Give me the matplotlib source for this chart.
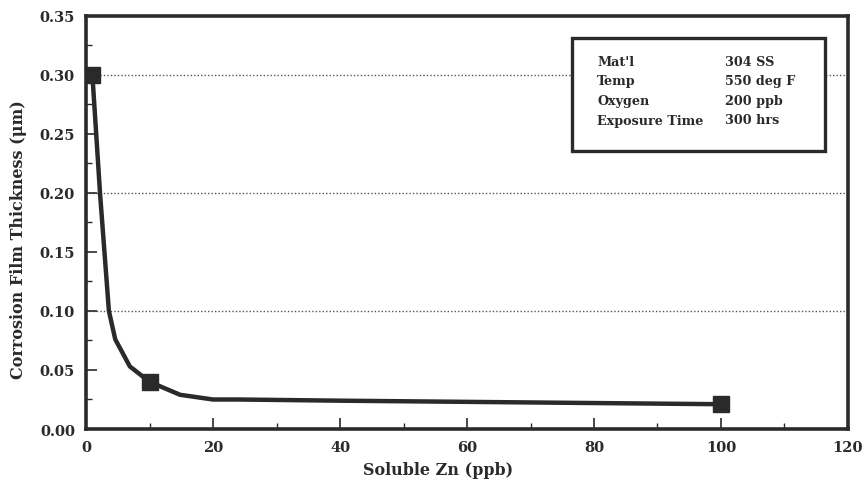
import matplotlib.pyplot as plt
from matplotlib.ticker import MultipleLocator

# measured points (squares)
zn_pts = [1, 10, 100]
film_pts = [0.30, 0.04, 0.021]

# hand drawn fitted curve
zn_curve = [1, 2.2, 3.6, 4.6, 6.9, 10, 14.8, 20, 24, 40, 60, 80, 100]
film_curve = [0.30, 0.20, 0.10, 0.076, 0.053, 0.04, 0.029, 0.025, 0.025, 0.024, 0.023, 0.022, 0.021]

info_keys = ["Mat'l", "Temp", "Oxygen", "Exposure Time"]
info_vals = ["304 SS", "550 deg F", "200 ppb", "300 hrs"]

plt.rcParams['font.family'] = ['DejaVu Serif']
plt.rcParams['font.weight'] = 'bold'
ink = '#2a2a2a'

fig = plt.figure(figsize=(8.63, 4.85), dpi=100)
ax = fig.add_axes([0.0997, 0.1134, 0.8829, 0.8516])

for y in [0.10, 0.20, 0.30]:
    ax.axhline(y, color='#555555', lw=1.0, ls=(0, (1, 1.5)), zorder=1)

ax.plot(zn_curve, film_curve, color=ink, lw=3.2, solid_capstyle='round',
        solid_joinstyle='round', zorder=3)
ax.plot(zn_pts, film_pts, ls='none', marker='s', ms=11, color=ink, zorder=4)

ax.set_xlim(0, 120)
ax.set_ylim(0, 0.35)
ax.xaxis.set_major_locator(MultipleLocator(20))
ax.xaxis.set_minor_locator(MultipleLocator(10))
ax.yaxis.set_major_locator(MultipleLocator(0.05))
ax.yaxis.set_minor_locator(MultipleLocator(0.025))
ax.yaxis.set_major_formatter(plt.FormatStrFormatter('%.2f'))
ax.tick_params(which='major', direction='in', length=8, width=1.2, colors=ink,
               labelsize=10.5, pad=8)
ax.tick_params(which='minor', direction='in', length=4, width=1.0, colors=ink)
for s in ax.spines.values():
    s.set_linewidth(2.6)
    s.set_color(ink)

ax.set_xlabel('Soluble Zn (ppb)', fontsize=11.5, fontweight='bold', color=ink)
ax.set_ylabel('Corrosion Film Thickness (\u03bcm)', fontsize=11.5, fontweight='bold',
              color=ink)
# labels sit a bit off-centre in the original
ax.xaxis.set_label_coords(0.462, -0.078)
ax.yaxis.set_label_coords(-0.078, 0.46)

# info box
box = plt.Rectangle((572 / 863, 1 - 152 / 485), (825 - 572) / 863, (152 - 39) / 485,
                    transform=fig.transFigure, facecolor='white', edgecolor=ink,
                    lw=2.4, zorder=5)
fig.patches.append(box)
rows_y = [63, 81, 101, 121]
for k, v, yy in zip(info_keys, info_vals, rows_y):
    fig.text(597 / 863, 1 - yy / 485, k, fontsize=9.2, fontweight='bold', color=ink,
             va='center', zorder=6)
    fig.text(725 / 863, 1 - yy / 485, v, fontsize=9.2, fontweight='bold', color=ink,
             va='center', zorder=6)

fig.savefig('out.png', dpi=100)
